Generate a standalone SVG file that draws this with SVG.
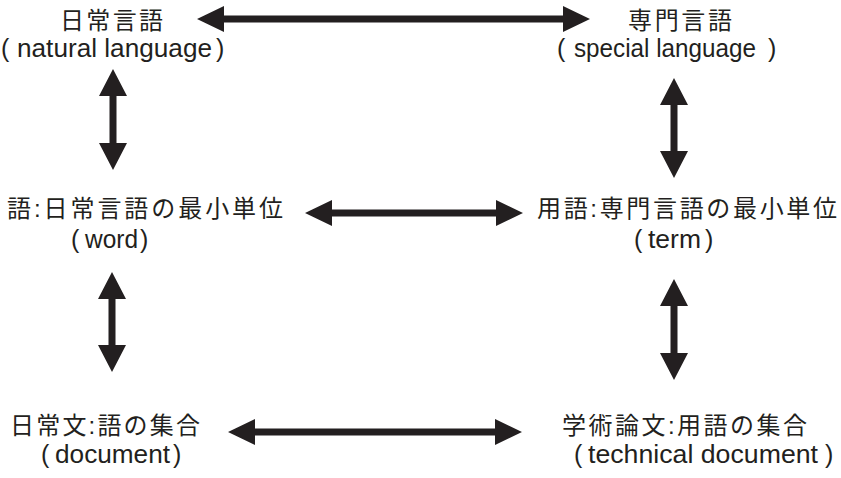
<svg xmlns="http://www.w3.org/2000/svg" width="841" height="478" viewBox="0 0 841 478">
<style>
text{font-family:"Liberation Sans","Noto Sans CJK JP",sans-serif;font-size:24px;fill:#231f20}
.en{font-size:25px}
.p{font-size:25px;font-weight:normal}
.arr{fill:#231f20}
</style>
<rect width="841" height="478" fill="#fff"/>
<g id="connectors">
<polygon class="arr" points="197,19 224,6 224,15.5 563,15.5 563,6 590,19 563,32 563,22.5 224,22.5 224,32"/>
<polygon class="arr" points="305,213 332,200 332,209.5 496,209.5 496,200 523,213 496,226 496,216.5 332,216.5 332,226"/>
<polygon class="arr" points="228,432 255,419 255,428.5 495,428.5 495,419 522,432 495,445 495,435.5 255,435.5 255,445"/>
<polygon class="arr" points="113,69 127,96 116.5,96 116.5,143 127,143 113,170 99,143 109.5,143 109.5,96 99,96"/>
<polygon class="arr" points="112,272 126,299 115.5,299 115.5,345 126,345 112,372 98,345 108.5,345 108.5,299 98,299"/>
<polygon class="arr" points="674,78 688,105 677.5,105 677.5,151 688,151 674,178 660,151 670.5,151 670.5,105 660,105"/>
<polygon class="arr" points="674,279 688,306 677.5,306 677.5,353 688,353 674,380 660,353 670.5,353 670.5,306 660,306"/>
</g>
<g id="natural-language">
<text x="60" y="29" textLength="103" lengthAdjust="spacing">日常言語</text>
<text class="en" y="57"><tspan class="p" x="1">(</tspan><tspan x="17" textLength="195" lengthAdjust="spacingAndGlyphs">natural language</tspan><tspan class="p" x="216">)</tspan></text>
</g>
<g id="special-language">
<text x="628" y="29" textLength="104" lengthAdjust="spacing">専門言語</text>
<text class="en" y="57"><tspan class="p" x="557">(</tspan><tspan x="574" textLength="182" lengthAdjust="spacingAndGlyphs">special language</tspan><tspan class="p" x="768">)</tspan></text>
</g>
<g id="word">
<text x="7" y="217" textLength="276" lengthAdjust="spacing">語:日常言語の最小単位</text>
<text class="en" y="248"><tspan class="p" x="71">(</tspan><tspan x="85" textLength="53" lengthAdjust="spacingAndGlyphs">word</tspan><tspan class="p" x="140">)</tspan></text>
</g>
<g id="term">
<text x="537" y="217" textLength="300" lengthAdjust="spacing">用語:専門言語の最小単位</text>
<text class="en" y="248"><tspan class="p" x="634">(</tspan><tspan x="648" textLength="53" lengthAdjust="spacingAndGlyphs">term</tspan><tspan class="p" x="705">)</tspan></text>
</g>
<g id="document">
<text x="10" y="434" textLength="190" lengthAdjust="spacing">日常文:語の集合</text>
<text class="en" y="463"><tspan class="p" x="41">(</tspan><tspan x="55" textLength="115" lengthAdjust="spacingAndGlyphs">document</tspan><tspan class="p" x="173">)</tspan></text>
</g>
<g id="technical-document">
<text x="562" y="434" textLength="245" lengthAdjust="spacing">学術論文:用語の集合</text>
<text class="en" y="463"><tspan class="p" x="574">(</tspan><tspan x="588" textLength="230" lengthAdjust="spacingAndGlyphs">technical document</tspan><tspan class="p" x="825">)</tspan></text>
</g>
</svg>
